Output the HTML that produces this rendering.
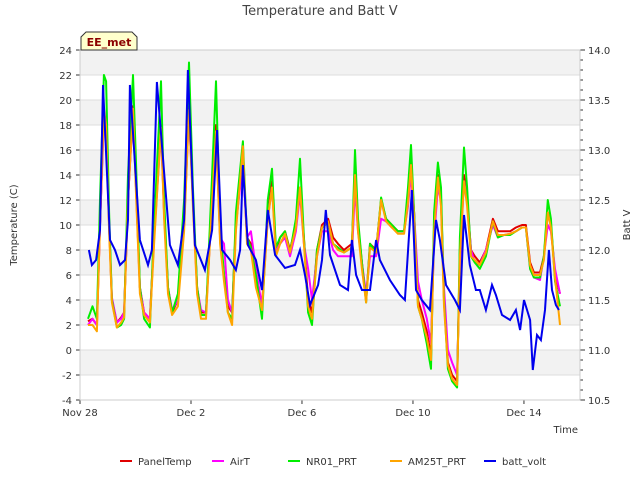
<!DOCTYPE html>
<html><head><meta charset="utf-8">
<style>
body{margin:0;background:#fff;font-family:"Liberation Sans",sans-serif;}
svg text{font-family:"DejaVu Sans","Liberation Sans",sans-serif;}
</style></head>
<body>
<svg id="chart" width="640" height="480" xmlns="http://www.w3.org/2000/svg">
<text x="320" y="15" text-anchor="middle" font-size="13" fill="#444">Temperature and Batt V</text>
<g id="bands"></g>
<g id="grid"></g>
<g id="series"></g>
<g id="axes"></g>
<text transform="translate(17,225) rotate(-90)" text-anchor="middle" font-size="10" fill="#333">Temperature (C)</text>
<text transform="translate(630,225) rotate(-90)" text-anchor="middle" font-size="10" fill="#333">Batt V</text>
<text x="578" y="433" text-anchor="end" font-size="10" fill="#333">Time</text>
<g>
<path d="M81,50 L81,37 L86,32 L132,32 L137,37 L137,50 Z" fill="#ffffcc" stroke="#333" stroke-width="1"/>
<text x="109" y="46" text-anchor="middle" font-size="11" font-weight="bold" fill="#8b0000">EE_met</text>
</g>
<g id="legend"></g>
</svg>
<script>
const tDays=[0.29,0.45,0.61,0.72,0.86,0.94,1.05,1.15,1.33,1.48,1.59,1.73,1.91,2.02,2.16,2.31,2.52,2.67,2.92,3.03,3.17,3.32,3.53,3.75,3.93,4.07,4.22,4.36,4.54,4.76,4.9,5.05,5.19,5.33,5.48,5.62,5.87,6.02,6.16,6.34,6.56,6.77,6.92,7.06,7.21,7.39,7.57,7.78,7.93,8.07,8.22,8.36,8.54,8.72,8.94,9.12,9.3,9.51,9.8,9.91,10.02,10.16,10.31,10.45,10.67,10.85,11.03,11.24,11.46,11.68,11.82,11.93,12.04,12.18,12.32,12.5,12.65,12.76,12.9,13.01,13.12,13.26,13.41,13.59,13.69,13.84,13.95,14.09,14.23,14.41,14.63,14.88,15.06,15.28,15.5,15.71,15.93,16.07,16.22,16.36,16.58,16.72,16.86,16.97,17.12,17.3];
const panelTemp=[2.3,2.5,2,10,19,18,10,4,2.2,2.6,3,12,19.5,13,5,3,2.5,9,18,11,5,3,4,10,19.5,12,5,3,3,12,18,9,6,3.5,3,10,15.5,9,8.5,6,3.5,11,13.5,8,9,9.5,8,10,13,9,4,3,8,10,10.5,9,8.5,8,8.5,14,10,7,4,8.5,8,12,10.5,10,9.5,9.5,12,15,11,4,3,1.5,-0.5,10,14,12,4,-1,-2,-2.5,8,14,12,8,7.5,7,8,10.5,9.5,9.5,9.5,9.8,10,10,7,6.2,6.2,7.5,11,10,6,4.5];
const airT=[2,2.5,2,10,18.5,17.5,10,4.2,2.2,2.5,3,12,19,13,5,3,2.5,9,17.5,11,5,3.2,4,10,19,12,5,3.2,3,12,17,9,8.5,4,3,10,15,9,9.5,6.5,3.5,10.5,13,8,8.5,9,7.5,9.5,12.5,8.5,6.5,4,7.5,9.5,9.5,8,7.5,7.5,7.5,13,9.5,7,4.5,7.5,7.5,10.5,10.3,9.8,9.5,9.5,11.5,14,11,5.5,4,2.5,0.5,9,13,12,5,0,-1,-2,7,13.5,12,8,7,6.8,8,10,9,9.2,9.3,9.5,9.8,9.8,6.5,5.8,5.6,7.5,10,9.5,6.5,4.5];
const nr01=[2.5,3.5,2.5,12,22,21.5,11,4,1.8,2,2.5,14,22,15,5,2.5,1.8,10,21.5,12,5,3,4.5,12,23,13,5,2.8,2.8,14,21.5,10,6,3,2.5,11,16.7,9,8.2,6,2.5,12,14.5,8.2,9,9.5,7.8,10.5,15.3,9,3,2,8,9.8,10.2,8.5,8.2,7.8,8.2,16,10.5,7,3.8,8.5,7.8,12.2,10.5,10,9.5,9.5,13,16.4,11,3.5,2.5,0.5,-1.5,11,15,13,4,-1.5,-2.5,-3,9,16.2,13,7.5,7,6.5,7.5,10.3,9,9.2,9.2,9.5,9.8,9.8,6.5,5.8,5.8,7.5,12,10.5,5.5,3.5];
const am25t=[2,2,1.5,10,19.3,18,9.5,3.8,1.8,2.2,2.6,12,19.3,12.5,4.5,2.8,2.2,8.5,17.8,10.5,4.5,2.8,3.5,9.5,19.2,11.5,4.5,2.5,2.5,12,17.5,8.5,5.5,3,2,9.5,16.3,8.5,8,5,3.2,10.5,13,7.5,8.5,9.3,7.8,9.8,13,8.5,3.5,2.5,7.5,9.8,10.3,8.5,8,7.8,8.2,14,9.5,6.5,3.8,8.2,7.8,12,10.3,9.8,9.3,9.3,11.8,14.8,10.5,3.5,2.5,1,-0.8,9.5,13.8,11.5,3.5,-1.2,-2.3,-2.8,7.5,13.5,11.5,7.5,7.2,6.8,7.8,10.3,9.2,9.2,9.3,9.5,9.8,9.8,6.8,6,6,7.2,11,9.8,5.8,2];
const battDays=[0.32,0.43,0.58,0.72,0.83,1.08,1.26,1.44,1.62,1.73,1.8,2.16,2.45,2.59,2.77,3.24,3.53,3.75,3.89,4.14,4.5,4.76,4.94,5.12,5.41,5.62,5.77,5.87,6.05,6.34,6.56,6.77,7.03,7.39,7.75,7.93,8.11,8.29,8.58,8.72,8.86,9.01,9.37,9.66,9.8,9.95,10.16,10.45,10.67,10.81,11.17,11.53,11.71,11.96,12.11,12.32,12.61,12.83,12.97,13.19,13.51,13.69,13.84,14.05,14.27,14.41,14.63,14.85,14.99,15.21,15.5,15.71,15.86,16.0,16.22,16.32,16.47,16.61,16.76,16.9,17.01,17.15,17.26];
const battVolt=[12.0,11.85,11.9,12.2,13.65,12.1,12.0,11.85,11.9,12.3,13.65,12.1,11.85,12.0,13.68,12.05,11.85,12.3,13.8,12.05,11.8,12.2,13.2,12.0,11.9,11.8,12.0,12.85,12.05,11.9,11.6,12.4,11.95,11.82,11.85,12.0,11.75,11.45,11.65,11.9,12.4,11.95,11.65,11.6,12.1,11.75,11.6,11.6,12.1,11.9,11.7,11.55,11.5,12.6,11.6,11.5,11.4,12.3,12.1,11.65,11.5,11.4,12.35,11.85,11.6,11.6,11.4,11.65,11.55,11.35,11.3,11.4,11.2,11.5,11.3,10.8,11.15,11.1,11.4,12.0,11.6,11.45,11.4];
const yTicks=[-4,-2,0,2,4,6,8,10,12,14,16,18,20,22,24];
const y2Ticks=[10.5,11.0,11.5,12.0,12.5,13.0,13.5,14.0];
const xTickDays=[0,4,8,12,16];
const xTickLabels=["Nov 28","Dec 2","Dec 6","Dec 10","Dec 14"];
const seriesNames=["PanelTemp","AirT","NR01_PRT","AM25T_PRT","batt_volt"];
const seriesColors=["#e00000","#ff00ff","#00ee00","#ffa500","#0000ee"];

const L=80,R=580,T=50,B=400,NS="http://www.w3.org/2000/svg";
const xS=d=>L+d*(R-L)/18.02;
const yS=v=>B-(v+4)*(B-T)/28;
const y2S=v=>B-(v-10.5)*(B-T)/3.5;
function mk(tag,attrs,parent){const e=document.createElementNS(NS,tag);for(const k in attrs)e.setAttribute(k,attrs[k]);parent.appendChild(e);return e;}
const bands=document.getElementById('bands'),grid=document.getElementById('grid'),axes=document.getElementById('axes'),ser=document.getElementById('series'),leg=document.getElementById('legend');
mk('rect',{x:L,y:T,width:R-L,height:B-T,fill:'#fff'},bands);
for(let v=-2;v<24;v+=4){const b=mk('rect',{x:L,y:yS(v+2),width:R-L,height:yS(v)-yS(v+2),fill:'#f2f2f2'},bands);

}
yTicks.forEach(v=>{
const g=mk('line',{x1:L,x2:R,y1:yS(v),y2:yS(v),stroke:'#ddd','stroke-width':1},grid);


const t=mk('text',{x:L-8,y:yS(v)+4,'text-anchor':'end','font-size':10,fill:'#333'},axes);


t.textContent=v;
mk('line',{x1:L-4,x2:L,y1:yS(v),y2:yS(v),stroke:'#333'},axes);
});
for(let i=0;i<=35;i++){const v=10.5+i*0.1;const major=i%5==0;
mk('line',{x1:R,x2:R+(major?5:3),y1:y2S(v),y2:y2S(v),stroke:'#333'},axes);}
y2Ticks.forEach(v=>{
const t=mk('text',{x:R+8,y:y2S(v)+4,'font-size':10,fill:'#333'},axes);


t.textContent=v.toFixed(1);});
xTickDays.forEach((d,i)=>{
mk('line',{x1:xS(d),x2:xS(d),y1:B,y2:B+4,stroke:'#333'},axes);
const t=mk('text',{x:xS(d),y:B+16,'text-anchor':'middle','font-size':10,fill:'#333'},axes);


t.textContent=xTickLabels[i];});
mk('rect',{x:L,y:T,width:R-L,height:B-T,fill:'none',stroke:'#ccc'},axes);
const tempSeries=[panelTemp,airT,nr01,am25t];
tempSeries.forEach((vals,i)=>{
const p=mk('path',{d:vals.map((v,j)=>(j?'L':'M')+xS(tDays[j]).toFixed(1)+','+yS(v).toFixed(1)).join(''),fill:'none',stroke:seriesColors[i],'stroke-width':2,'stroke-linejoin':'round'},ser);

});
const bp=mk('path',{d:battVolt.map((v,j)=>(j?'L':'M')+xS(battDays[j]).toFixed(1)+','+y2S(v).toFixed(1)).join(''),fill:'none',stroke:seriesColors[4],'stroke-width':2},ser);


const legX=[120,212,288,390,484];
seriesNames.forEach((n,i)=>{
const g=mk('g',{},leg);


mk('line',{x1:legX[i],x2:legX[i]+12,y1:461,y2:461,stroke:seriesColors[i],'stroke-width':2},g);
const t=mk('text',{x:legX[i]+18,y:465,'font-size':10,fill:'#333'},g);
t.textContent=n;});
</script>
</body></html>
